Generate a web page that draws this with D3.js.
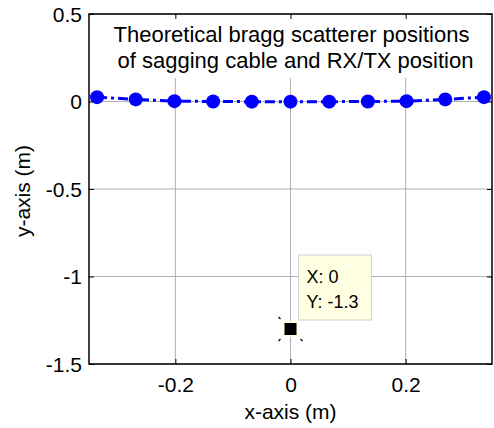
<!DOCTYPE html>
<html>
<head>
<meta charset="utf-8">
<script src="https://cdn.jsdelivr.net/npm/d3@7"></script>
<style>
  html, body { margin: 0; padding: 0; background: #fff; }
  svg { display: block; }
  text { font-family: Arial, "Liberation Sans", sans-serif; fill: #000; }
</style>
</head>
<body>
<svg id="chart" width="494" height="428"></svg>
<script>
// ---- data ----
const cableX = [-0.336, -0.2688, -0.2016, -0.1344, -0.0672, 0, 0.0672, 0.1344, 0.2016, 0.2688, 0.336];
const cableY = [0.025, 0.012, 0.002, 0.0, -0.001, -0.001, -0.001, 0.0, 0.002, 0.012, 0.025];
const rxtxX = [0];
const rxtxY = [-1.3];
const xTicks = [-0.2, 0, 0.2];
const yTicks = [0.5, 0, -0.5, -1, -1.5];
const titleLines = ["Theoretical bragg scatterer positions", "of sagging cable and RX/TX position"];
const xLabel = "x-axis (m)";
const yLabel = "y-axis (m)";
const tipLines = ["X: 0", "Y: -1.3"];

// ---- layout ----
const L = 89, R = 492, T = 14, B = 364;
const svg = d3.select("#chart");
const x = d3.scaleLinear().domain([-0.35, 0.35]).range([L, R]);
const y = d3.scaleLinear().domain([-1.5, 0.5]).range([B, T]);

// grid
const grid = svg.append("g");
grid.selectAll(".gx").data(xTicks).join("line")
  .attr("x1", d => x(d)).attr("x2", d => x(d)).attr("y1", T).attr("y2", B)
  .attr("stroke", "#b0b0b0").attr("stroke-width", 1);
grid.selectAll(".gy").data(yTicks).join("line")
  .attr("x1", L).attr("x2", R).attr("y1", d => y(d)).attr("y2", d => y(d))
  .attr("stroke", "#b0b0b0").attr("stroke-width", 1);

// title box (white background hides grid)
svg.append("rect").attr("x", L + 1).attr("y", T + 1).attr("width", R - L - 2).attr("height", 63).attr("fill", "#fff");
svg.append("g").selectAll("text").data(titleLines).join("text")
  .attr("x", (d, i) => (L + R) / 2 + 1 + i * 4).attr("y", (d, i) => 42 + i * 26)
  .attr("text-anchor", "middle").attr("font-size", 22).text(d => d);

// axes via d3
const fmt = d => (d === 0 ? "0" : String(d));
const axB = svg.append("g").attr("transform", `translate(0,${B})`)
  .call(d3.axisBottom(x).tickValues(xTicks).tickSize(-5).tickPadding(13).tickFormat(fmt));
const axT = svg.append("g").attr("transform", `translate(0,${T})`)
  .call(d3.axisTop(x).tickValues(xTicks).tickSize(-5).tickFormat(""));
const axL = svg.append("g").attr("transform", `translate(${L},0)`)
  .call(d3.axisLeft(y).tickValues(yTicks).tickSize(-5).tickPadding(7).tickFormat(fmt));
const axR = svg.append("g").attr("transform", `translate(${R},0)`)
  .call(d3.axisRight(y).tickValues(yTicks).tickSize(-5).tickFormat(""));
[axB, axT, axL, axR].forEach(a => {
  a.select(".domain").remove();
  a.selectAll(".tick line").attr("stroke", "#000").attr("stroke-width", 1);
  a.selectAll(".tick text").attr("font-size", 21).attr("font-family", "Arial, 'Liberation Sans', sans-serif").attr("fill", "#000");
});
axL.selectAll(".tick text").attr("dy", "0.35em");

// box
svg.append("rect").attr("x", L).attr("y", T).attr("width", R - L).attr("height", B - T)
  .attr("fill", "none").attr("stroke", "#000").attr("stroke-width", 1.5);

// axis labels
svg.append("text").attr("x", (L + R) / 2).attr("y", 419).attr("text-anchor", "middle")
  .attr("font-size", 21).text(xLabel);
svg.append("text").attr("transform", `translate(30,${(T + B) / 2 + 2}) rotate(-90)`)
  .attr("text-anchor", "middle").attr("font-size", 21).text(yLabel);

// cable series
const pts = cableX.map((d, i) => [d, cableY[i]]);
svg.append("path").datum(pts)
  .attr("d", d3.line().x(d => x(d[0])).y(d => y(d[1])))
  .attr("fill", "none").attr("stroke", "#0000ff").attr("stroke-width", 3)
  .attr("stroke-dasharray", "10,4,3,4");
svg.append("g").selectAll("circle").data(pts).join("circle")
  .attr("cx", d => x(d[0])).attr("cy", d => y(d[1])).attr("r", 7).attr("fill", "#0000ff");

// RX/TX marker with datatip highlight
const rx = rxtxX.map((d, i) => [d, rxtxY[i]]);
const mk = svg.append("g");
rx.forEach(p => {
  const cx = x(p[0]), cy = y(p[1]);
  mk.append("rect").attr("x", cx - 8).attr("y", cy - 8).attr("width", 16).attr("height", 16).attr("fill", "#ffffe1");
  mk.append("rect").attr("x", cx - 6).attr("y", cy - 6).attr("width", 12).attr("height", 12).attr("fill", "#000");
  [[-1, -1], [-1, 1], [1, 1]].forEach(([sx, sy]) => {
    mk.append("line").attr("x1", cx + sx * 10).attr("y1", cy + sy * 10)
      .attr("x2", cx + sx * 12).attr("y2", cy + sy * 12).attr("stroke", "#000").attr("stroke-width", 1.2);
  });
  // tooltip box
  mk.append("rect").attr("x", cx + 8).attr("y", cy - 74).attr("width", 73).attr("height", 65)
    .attr("fill", "#ffffe1").attr("stroke", "#d0d0d0").attr("stroke-width", 1);
  mk.selectAll(".tip").data(tipLines).join("text")
    .attr("x", cx + 16).attr("y", (d, i) => cy - 46 + i * 25)
    .attr("font-size", 18).text(d => d);
});
</script>
</body>
</html>
